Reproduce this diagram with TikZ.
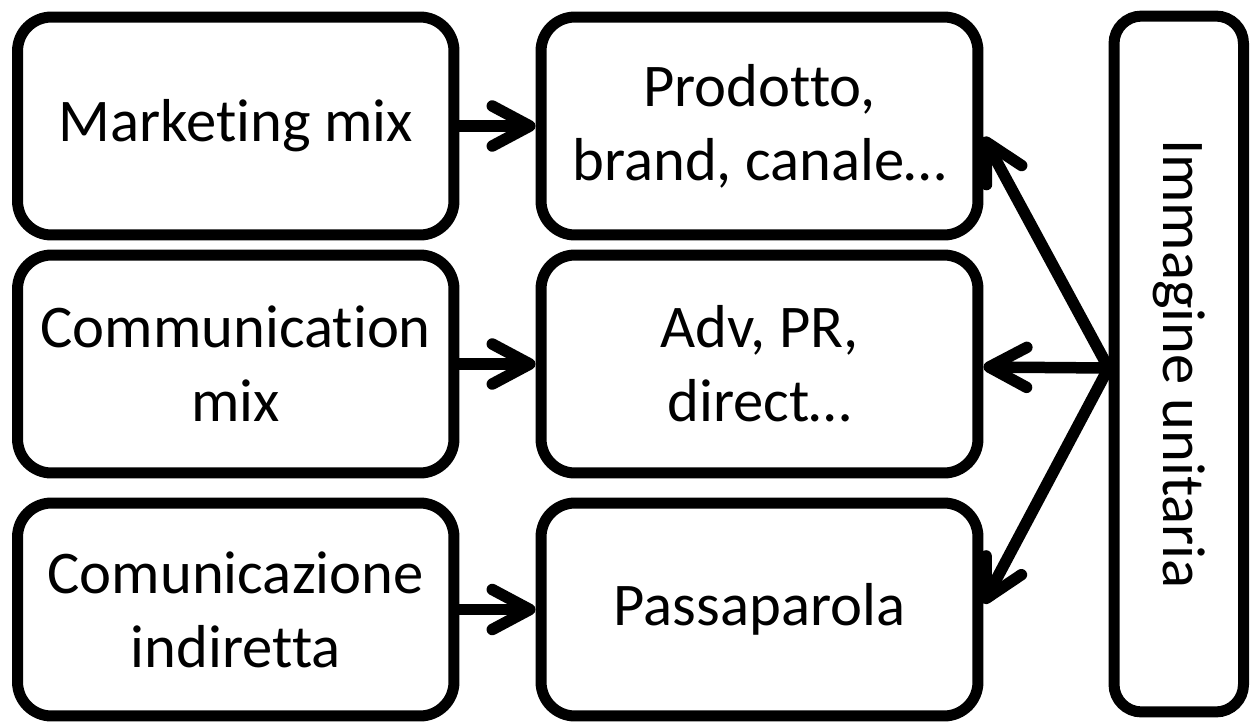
\documentclass[tikz,border=0pt]{standalone}
\usepackage{fontspec}
\setmainfont{Carlito}[Ligatures={NoCommon}]
\usetikzlibrary{arrows.meta,calc}
\begin{document}
\begin{tikzpicture}[x=0.02cm,y=-0.02cm,
  box/.style={draw=black, line width=0.22cm, rounded corners=0.68cm, align=center,
    inner sep=0pt, font=\fontsize{34.5}{42}\selectfont},
  lbox/.style={box, minimum width=8.73cm},
  mbox/.style={box, minimum width=8.74cm},
  arr/.style={line width=0.23cm, -{Straight Barb[length=0.75cm,width=0.8cm,round]}}
]
\useasboundingbox (0,0) rectangle (1250,724);
\node[lbox, minimum height=4.36cm] (l1) at (235.75,126) {Marketing mix};
\node[lbox, minimum height=4.36cm] (l2) at (235.75,364) {Communication\\mix};
\node[lbox, minimum height=4.26cm] (l3) at (235.75,609.5) {Comunicazione\\indiretta};
\node[mbox, minimum height=4.36cm] (m1) at (759.5,126) {Prodotto,\\brand, canale…};
\node[mbox, minimum height=4.36cm] (m2) at (759.5,364) {Adv, PR,\\direct…};
\node[mbox, minimum height=4.26cm] (m3) at (759.5,609.5) {Passaparola};
\node[box, minimum width=2.59cm, minimum height=13.92cm, rounded corners=0.55cm] (r) at (1178.75,364) {};
\node[rotate=-90, font=\fontsize{34.5}{42}\selectfont, inner sep=0pt] (rt) at (r.center) {Immagine unitaria};
\draw[arr] (l1) -- (m1);
\draw[arr] (l2) -- (m2);
\draw[arr] (l3) -- (m3);
\coordinate (s) at ($(r.west)+(0,4)$);
\draw[arr] (s) -- ($(m1.east)+(0,11)$);
\draw[arr] (s) -- ($(m2.east)+(0,3)$);
\draw[arr] (s) -- ($(m3.east)+(0,-6)$);
\end{tikzpicture}
\end{document}
